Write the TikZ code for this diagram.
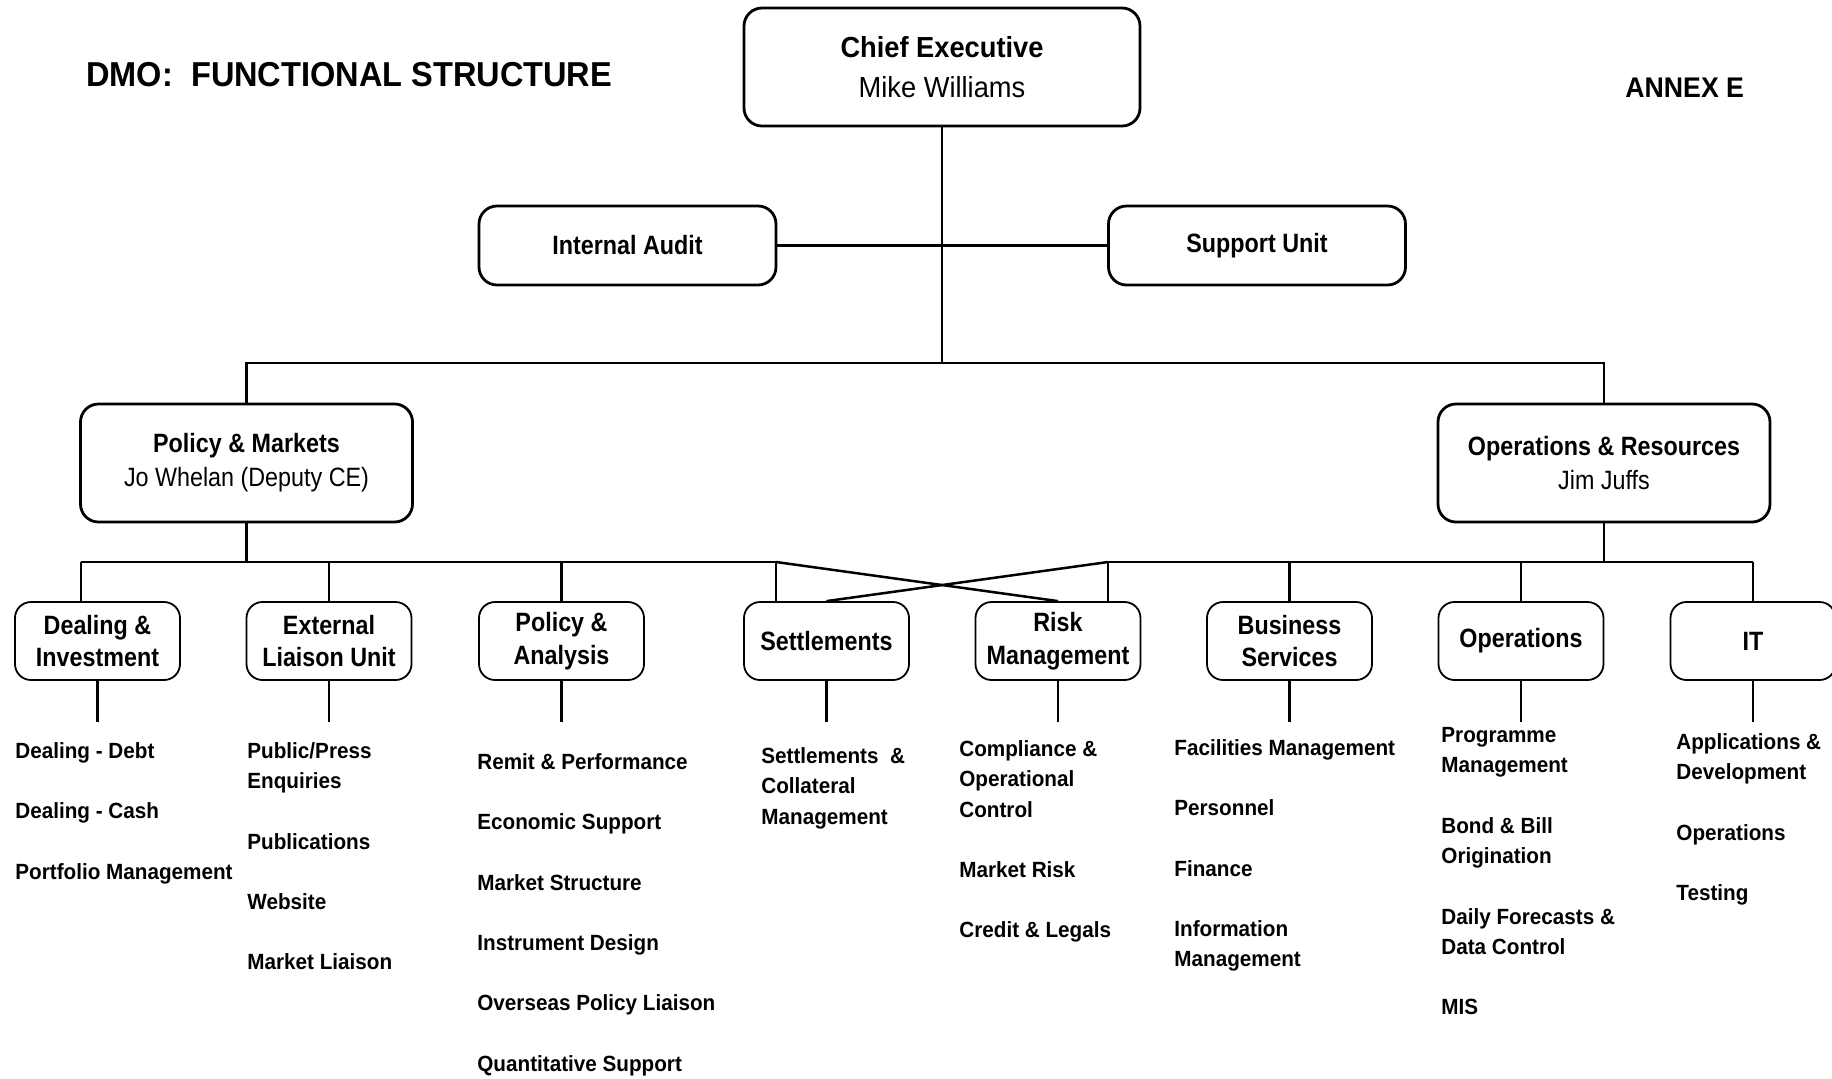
\documentclass[tikz,border=0pt]{standalone}
\usepackage{fontspec}
\setmainfont{Liberation Sans}[FakeStretch=0.94]
\newfontfamily\boxfont{Liberation Sans}[FakeStretch=0.88]
\usetikzlibrary{positioning}

\tikzset{
  headbox/.style={draw, rounded corners=9pt, line width=1.4pt, align=center, inner sep=0pt,
                  minimum width=166pt, minimum height=59pt, font=\boxfont\fontsize{13.25}{17}\selectfont},
  sidebox/.style={headbox, minimum width=148.5pt, minimum height=39.5pt},
  unitbox/.style={draw, rounded corners=8pt, line width=0.9pt, align=center, inner sep=0pt,
                  minimum width=82.5pt, minimum height=39pt, font=\boxfont\bfseries\fontsize{13.25}{16.4}\selectfont},
  tasklist/.style={anchor=north west, inner sep=0pt, align=left, font=\bfseries\fontsize{11}{15.2}\selectfont},
  link/.style={line width=1.25pt},
}

\begin{document}
\begin{tikzpicture}[x=0.5pt, y=-0.5pt]
            \useasboundingbox (0,0) rectangle (1832,1078);

            % Titel
            \node[anchor=west, inner sep=0pt, font=\bfseries\fontsize{17.3}{20}\selectfont] (title) at (86,75) {DMO:\ \ FUNCTIONAL STRUCTURE};
            \node[anchor=west, inner sep=0pt, font=\bfseries\fontsize{14.2}{16}\selectfont] (annex) at (1625,88) {ANNEX E};

            % Leitung
            \node[headbox, minimum width=198pt, font=\fontsize{14.5}{20}\selectfont] (ce) at (942,67) {\textbf{Chief Executive}\\Mike Williams};
            \node[sidebox] (audit) at (627.5,245.5) {\textbf{Internal Audit}};
            \node[sidebox] (support) at (1257,245.5) {\textbf{Support Unit}};
            \node[headbox] (pm) at (246.5,463) {\textbf{Policy \& Markets}\\Jo Whelan (Deputy CE)};
            \node[headbox] (ops) at (1604,463) {\textbf{Operations \& Resources}\\Jim Juffs};

            % Bereiche
            \node[unitbox] (deal) at (97.5,641) {Dealing \&\\Investment};
            \node[unitbox] (liaison) at (329,641) {External\\Liaison Unit};
            \node[unitbox] (analysis) at (561.5,641) {Policy \&\\Analysis};
            \node[unitbox] (settle) at (826.5,641) {Settlements};
            \node[unitbox] (risk) at (1058,641) {Risk\\Management};
            \node[unitbox] (business) at (1289.5,641) {Business\\Services};
            \node[unitbox] (operations) at (1521,641) {Operations};
            \node[unitbox] (it) at (1753,641) {IT};

            % Schienen
            \coordinate (topbar) at (942,363);
            \coordinate (lowbar) at (0,562);
            \coordinate (tapdeal) at (81,562);
            \coordinate (tapsett) at (776,562);
            \coordinate (taprisk) at (1108,562);

            \draw[link] (ce.south) -- (topbar);
            \draw[link] (audit.east) -- (support.west);
            \draw[link] (pm.north) -- (pm.north |- topbar) -- (ops.north |- topbar) -- (ops.north);

            \draw[link] (pm.south) -- (pm.south |- lowbar);
            \draw[link] (tapdeal) -- (tapsett);
            \draw[link] (tapdeal) -- (tapdeal |- deal.north);
            \draw[link] (tapsett) -- (tapsett |- settle.north);
            \draw[link] (tapsett) -- (risk.north);

            \draw[link] (ops.south) -- (ops.south |- lowbar);
            \draw[link] (taprisk) -- (it.north |- lowbar);
            \draw[link] (taprisk) -- (taprisk |- risk.north);
            \draw[link] (taprisk) -- (settle.north);

            \foreach \u in {liaison, analysis, business, operations, it}
                \draw[link] (\u.north) -- (\u.north |- lowbar);
            \foreach \u in {deal, liaison, analysis, settle, risk, business, operations, it}
                \draw[link] (\u.south) -- ++(0,41);

            % Aufgaben
            \node[tasklist] (deallist) at (15,742) {Dealing - Debt\\[15pt]Dealing - Cash\\[15pt]Portfolio Management};
            \node[tasklist] (liaisonlist) at (247,742) {Public/Press\\Enquiries\\[15pt]Publications\\[15pt]Website\\[15pt]Market Liaison};
            \node[tasklist] (analysislist) at (477,753) {Remit \& Performance\\[15pt]Economic Support\\[15pt]Market Structure\\[15pt]Instrument Design\\[15pt]Overseas Policy Liaison\\[15pt]Quantitative Support};
            \node[tasklist] (settlelist) at (761,747) {Settlements\ \ \&\\Collateral\\Management};
            \node[tasklist] (risklist) at (959,740) {Compliance \&\\Operational\\Control\\[15pt]Market Risk\\[15pt]Credit \& Legals};
            \node[tasklist] (businesslist) at (1174,739) {Facilities Management\\[15pt]Personnel\\[15pt]Finance\\[15pt]Information\\Management};
            \node[tasklist] (operationslist) at (1441,727) {Programme\\Management\\[15pt]Bond \& Bill\\Origination\\[15pt]Daily Forecasts \&\\Data Control\\[15pt]MIS};
            \node[tasklist] (itlist) at (1676,733) {Applications \&\\Development\\[15pt]Operations\\[15pt]Testing};
\end{tikzpicture}
\end{document}
